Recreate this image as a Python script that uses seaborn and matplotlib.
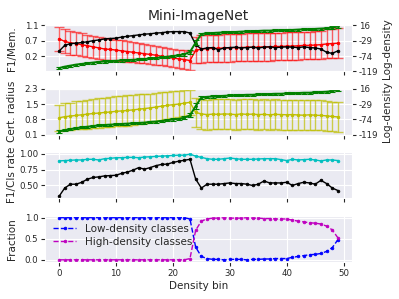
import numpy as np
import matplotlib
matplotlib.use("Agg")
import matplotlib.pyplot as plt
from matplotlib.ticker import MultipleLocator, FormatStrFormatter
import seaborn as sns

bins = list(range(50))

log_density = [-109, -105, -102, -99, -97, -95, -93, -91, -90, -89, -88, -87, -86, -85, -84, -83,
               -81, -80, -78, -76, -74, -72, -69, -62, -35, -10, -8, -7, -6, -5, -4, -4, -3, -2,
               -2, -1, 0, 0, 1, 1, 2, 2, 3, 4, 4, 5, 6, 7, 9, 12]
log_density_std = [3, 3, 3, 3, 3, 3, 3, 3, 3, 3, 3, 3, 3, 3, 3, 3, 3, 3, 3, 3, 3, 3, 4, 6, 8, 4,
                   3, 3, 3, 3, 3, 3, 3, 3, 3, 3, 3, 3, 3, 3, 3, 3, 3, 3, 3, 3, 3, 3, 3, 3]

f1_top = [0.36, 0.52, 0.57, 0.58, 0.60, 0.62, 0.65, 0.67, 0.70, 0.71, 0.72, 0.75, 0.77, 0.79,
          0.81, 0.83, 0.84, 0.86, 0.87, 0.89, 0.90, 0.90, 0.90, 0.86,
          0.54, 0.42, 0.45, 0.46, 0.40, 0.45, 0.46, 0.47, 0.45, 0.46, 0.47, 0.45, 0.47, 0.48,
          0.46, 0.47, 0.48, 0.47, 0.46, 0.48, 0.46, 0.45, 0.42, 0.33, 0.30, 0.37]

mem_mean = [0.70, 0.63, 0.59, 0.57, 0.54, 0.51, 0.48, 0.45, 0.42, 0.41, 0.39, 0.37, 0.35, 0.33,
            0.31, 0.29, 0.27, 0.25, 0.22, 0.20, 0.17, 0.15, 0.13, 0.10,
            0.38, 0.42, 0.43, 0.44, 0.44, 0.45, 0.45, 0.46, 0.46, 0.47, 0.47, 0.47, 0.48, 0.48,
            0.49, 0.49, 0.50, 0.50, 0.51, 0.52, 0.52, 0.53, 0.54, 0.56, 0.57, 0.58]
mem_std = [0.33, 0.33, 0.33, 0.32, 0.32, 0.31, 0.31, 0.30, 0.30, 0.29, 0.29, 0.29, 0.28, 0.28,
           0.27, 0.27, 0.26, 0.26, 0.25, 0.25, 0.25, 0.25, 0.26, 0.26,
           0.36, 0.38, 0.38, 0.38, 0.38, 0.38, 0.38, 0.38, 0.38, 0.38, 0.38, 0.38, 0.38, 0.38,
           0.38, 0.38, 0.38, 0.38, 0.38, 0.38, 0.38, 0.38, 0.39, 0.40, 0.40, 0.41]

cert_mean = [0.90, 0.95, 0.98, 1.01, 1.04, 1.07, 1.10, 1.12, 1.15, 1.17, 1.20, 1.22, 1.24, 1.27,
             1.30, 1.33, 1.36, 1.40, 1.44, 1.48, 1.51, 1.54, 1.58, 1.62,
             1.15, 1.08, 1.05, 1.07, 1.06, 1.08, 1.07, 1.05, 1.08, 1.06, 1.07, 1.05, 1.06, 1.04,
             1.06, 1.05, 1.04, 1.05, 1.03, 1.02, 1.04, 1.02, 1.01, 0.99, 0.96, 0.94]
cert_std = [0.60, 0.62, 0.63, 0.65, 0.66, 0.67, 0.68, 0.69, 0.69, 0.70, 0.70, 0.70, 0.70, 0.69,
            0.69, 0.68, 0.67, 0.66, 0.65, 0.64, 0.62, 0.61, 0.60, 0.58,
            0.68, 0.70, 0.70, 0.70, 0.70, 0.70, 0.70, 0.70, 0.70, 0.70, 0.70, 0.70, 0.70, 0.70,
            0.70, 0.70, 0.70, 0.70, 0.70, 0.70, 0.70, 0.70, 0.70, 0.69, 0.68, 0.68]

cls_rate = [0.885, 0.89, 0.895, 0.90, 0.90, 0.91, 0.91, 0.90, 0.92, 0.925, 0.935, 0.935, 0.94,
            0.94, 0.935, 0.945, 0.95, 0.955, 0.96, 0.965, 0.97, 0.975, 0.975, 0.99,
            0.96, 0.94, 0.92, 0.91, 0.91, 0.92, 0.93, 0.92, 0.91, 0.91, 0.91, 0.915, 0.92, 0.92,
            0.92, 0.905, 0.89, 0.91, 0.90, 0.905, 0.91, 0.90, 0.885, 0.90, 0.90, 0.89]
f1_rate = [0.33, 0.46, 0.52, 0.52, 0.55, 0.60, 0.625, 0.635, 0.65, 0.655, 0.66, 0.69, 0.71,
           0.74, 0.78, 0.755, 0.78, 0.81, 0.83, 0.835, 0.86, 0.88, 0.895, 0.91,
           0.60, 0.46, 0.52, 0.52, 0.52, 0.53, 0.54, 0.53, 0.53, 0.52, 0.50, 0.52, 0.57, 0.54,
           0.54, 0.54, 0.55, 0.50, 0.53, 0.55, 0.54, 0.52, 0.58, 0.53, 0.46, 0.42]

low_frac = [1.00, 1.00, 1.00, 1.00, 1.00, 1.00, 1.00, 1.00, 1.00, 1.00, 1.00, 1.00, 1.00, 1.00,
            1.00, 1.00, 1.00, 1.00, 1.00, 1.00, 1.00, 1.00, 1.00, 0.97,
            0.30, 0.08, 0.03, 0.01, 0.01, 0.00, 0.01, 0.01, 0.01, 0.00, 0.01, 0.01, 0.02, 0.02,
            0.03, 0.03, 0.03, 0.06, 0.08, 0.10, 0.12, 0.13, 0.15, 0.20, 0.29, 0.48]
high_frac = [0.00, 0.00, 0.00, 0.00, 0.00, 0.00, 0.00, 0.00, 0.00, 0.00, 0.00, 0.00, 0.00, 0.00,
             0.00, 0.00, 0.00, 0.00, 0.00, 0.00, 0.00, 0.00, 0.00, 0.03,
             0.70, 0.92, 0.97, 0.99, 0.99, 1.00, 0.99, 0.99, 0.99, 1.00, 0.99, 0.99, 0.98, 0.98,
             0.97, 0.97, 0.97, 0.94, 0.92, 0.90, 0.88, 0.87, 0.85, 0.80, 0.71, 0.52]

title = "Mini-ImageNet"
left_labels = ["F1/Mem.", "Cert. radius", "F1/Cls rate", "Fraction"]
right_label = "Log-density"
legend_labels = ["Low-density classes", "High-density classes"]
xlabel = "Density bin"

sns.set_style("darkgrid", {"xtick.bottom": True, "ytick.left": True})
plt.rcParams['font.family'] = ['DejaVu Sans']

TICK = 6.2
LAB = 7.5

fig = plt.figure(figsize=(3.99, 2.99), dpi=100)
axes = fig.subplots(4, 1, sharex=True)
fig.subplots_adjust(left=0.113, right=0.882, top=0.916, bottom=0.124, hspace=0.37)

def line(ax, y, color, ls='-', lw=1.0, ms=4, label=None):
    sns.lineplot(x=bins, y=y, ax=ax, color=color, linestyle=ls, linewidth=lw,
                 marker='.', markersize=ms, markeredgecolor=color, markeredgewidth=0.5,
                 label=label, legend=False if label is None else 'auto')

def dens_twin(ax):
    tw = ax.twinx()
    tw.grid(False)
    tw.errorbar(bins, log_density, yerr=log_density_std, fmt='none', ecolor='g',
                elinewidth=0.8, capsize=2, capthick=0.8)
    line(tw, log_density, 'g', lw=1.4, ms=3)
    lo, hi = -119, 16
    tw.set_ylim(lo, hi)
    tv = np.linspace(lo, hi, 4)
    tw.set_yticks(tv)
    tw.set_yticklabels([f"{v:.0f}" for v in tv], fontsize=TICK)
    tw.set_ylabel(right_label, fontsize=LAB)
    tw.yaxis.set_label_coords(1.098, 0.5)
    tw.tick_params(axis='y', length=3, pad=2)
    return tw

# Panel 1
ax = axes[0]
ax.errorbar(bins, mem_mean, yerr=mem_std, fmt='none', ecolor=(1, 0, 0, 0.6),
            elinewidth=1.0, capsize=3.5, capthick=1.0)
line(ax, mem_mean, 'r', ms=4)
line(ax, f1_top, 'k', ms=4)
lo, hi = -0.2, 1.08
ax.set_ylim(lo, hi)
tv = np.linspace(lo, hi, 4)[1:]
ax.set_yticks(tv)
ax.set_yticklabels([f"{v:.1f}" for v in tv], fontsize=TICK)
ax.set_ylabel(left_labels[0], fontsize=LAB)
ax.set_title(title, fontsize=10, pad=4)
dens_twin(ax)

# Panel 2
ax = axes[1]
ax.errorbar(bins, cert_mean, yerr=cert_std, fmt='none', ecolor=(0.75, 0.75, 0, 0.7),
            elinewidth=1.0, capsize=3.5, capthick=1.0)
line(ax, cert_mean, 'y', ms=4)
lo, hi = 0.1, 2.26
ax.set_ylim(lo, hi)
tv = np.linspace(lo, hi, 4)
ax.set_yticks(tv)
ax.set_yticklabels([f"{v:.1f}" for v in tv], fontsize=TICK)
ax.set_ylabel(left_labels[1], fontsize=LAB)
dens_twin(ax)

# Panel 3
ax = axes[2]
line(ax, cls_rate, 'c', ms=4)
line(ax, f1_rate, 'k', ms=4)
ax.yaxis.set_major_locator(MultipleLocator(0.25))
ax.yaxis.set_major_formatter(FormatStrFormatter('%.2f'))
ax.set_ylabel(left_labels[2], fontsize=LAB)

# Panel 4
ax = axes[3]
line(ax, low_frac, 'b', ls='--', ms=4, label=legend_labels[0])
line(ax, high_frac, 'm', ls='--', ms=4, label=legend_labels[1])
ax.yaxis.set_major_locator(MultipleLocator(0.5))
ax.yaxis.set_major_formatter(FormatStrFormatter('%.1f'))
ax.set_ylabel(left_labels[3], fontsize=LAB)
ax.set_xlabel(xlabel, fontsize=LAB, labelpad=2)
ax.legend(loc='upper left', fontsize=7.5, handlelength=2.2, borderpad=0.3,
          labelspacing=0.3, frameon=False)
ax.xaxis.set_major_locator(MultipleLocator(10))

for a in axes:
    a.tick_params(axis='both', labelsize=TICK, length=3, pad=2)
    a.set_xlim(-2.45, 51.45)
    a.yaxis.set_label_coords(-0.09, 0.5)

fig.savefig("out.png", dpi=100)
